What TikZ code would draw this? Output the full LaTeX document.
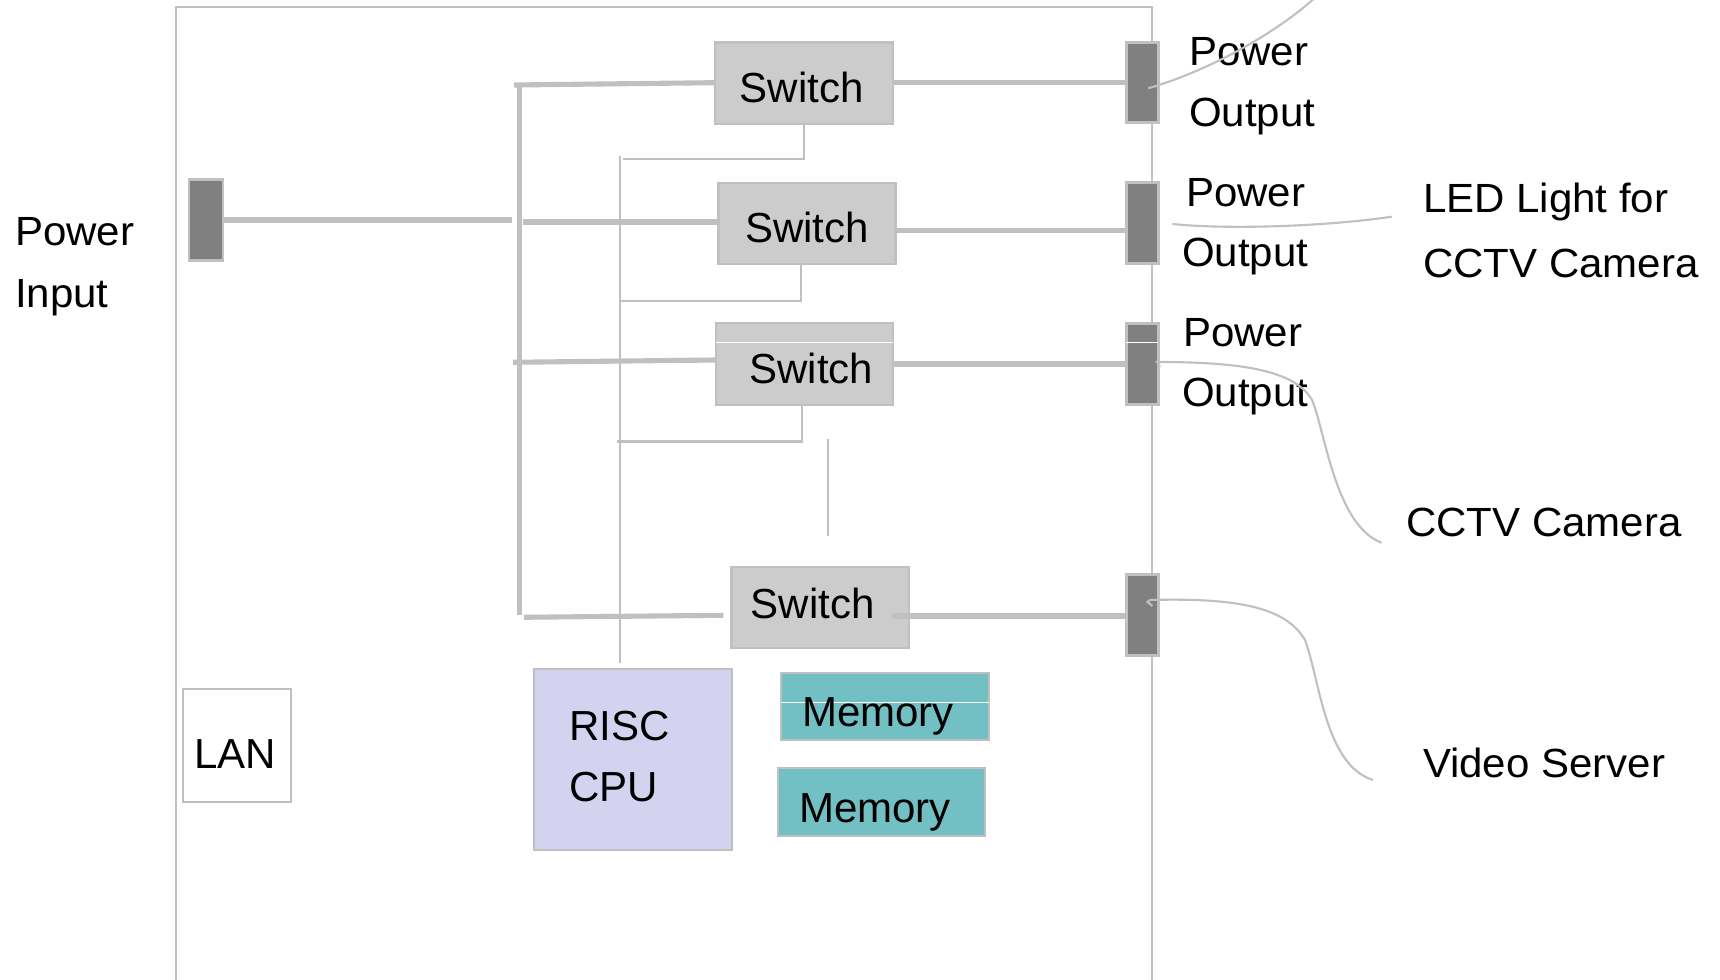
\documentclass[tikz,border=0pt]{standalone}
\usepackage{fontspec}
\setmainfont{Liberation Sans}
\usepackage{graphicx}
\definecolor{ln}{HTML}{C0C0C0}
\definecolor{swfill}{HTML}{CCCCCC}
\definecolor{portfill}{HTML}{808080}
\definecolor{cpufill}{HTML}{D3D3F0}
\definecolor{memfill}{HTML}{72BFC4}
\newcommand\sq[1]{\scalebox{1}[0.97]{#1}}
\newcommand\sr[1]{\scalebox{1}[0.97]{#1}}
\newcommand\rbox[6]{\node[#2, minimum width={(#5-#3)*0.01cm}, minimum height={(#6-#4)*0.01cm}] (#1) at (#3,#4) {};}
\begin{document}
\begin{tikzpicture}[x=0.01cm,y=-0.01cm,
  every node/.style={font=\fontsize{11.95pt}{14pt}\selectfont, inner sep=0pt, outer sep=0pt},
  box/.style={draw=ln, line width=0.7pt, rectangle, anchor=north west},
  swbox/.style={box, fill=swfill},
  port/.style={box, fill=portfill, line width=0.85pt},
  cpubox/.style={box, fill=cpufill},
  membox/.style={box, fill=memfill},
  lanbox/.style={box, fill=white},
  lbl/.style={anchor=base west},
  power/.style={draw=ln, line width=1.45pt},
  ctrl/.style={draw=ln, line width=0.6pt},
  wire/.style={draw=ln, line width=0.6pt},
  frame/.style={draw=ln, line width=0.6pt},
  artifact/.style={draw=white, line width=0.3pt}
]
\fill[white] (0,0) rectangle (1720,980);
\useasboundingbox (0,0) rectangle (1720,980);

% outer frame (open at the bottom)
\draw[frame] (176,980) -- (176,7.3) -- (1152,7.3) -- (1152,980);

% ports
\rbox{PIN}{port}{189}{180}{223}{261}
\rbox{P1}{port}{1126}{43}{1158}{123}
\rbox{P2}{port}{1126}{183}{1158}{264}
\rbox{P3}{port}{1126}{324}{1158}{405}
\rbox{P4}{port}{1126}{575}{1158}{656}

% switches
\rbox{S1}{swbox}{715}{42.7}{893}{124}
\rbox{S2}{swbox}{718.5}{183}{895.6}{264}
\rbox{S3}{swbox}{716}{323}{893}{405}
\rbox{S4}{swbox}{731.7}{567}{909}{648}

% CPU, memory, LAN
\rbox{CPU}{cpubox}{534}{669}{732}{850}
\rbox{M1}{membox}{781}{673}{989}{740}
\rbox{M2}{membox}{778}{768}{985}{836}
\rbox{LAN}{lanbox}{183}{689}{291}{802}

% thin white artefact lines
\draw[artifact] (S3.west |- 0,342.7) -- (S3.east |- 0,342.7);
\draw[artifact] (P3.west |- 0,342.7) -- (P3.east |- 0,342.7);
\draw[artifact] (M1.west |- 0,702.7) -- (M1.east |- 0,702.7);

% power distribution
\coordinate (jin) at (512,220.5);
\coordinate (bustop) at (519.5,83.3);
\coordinate (busbot) at (519.5,615);
\coordinate (b1) at (514,85);
\coordinate (b2) at (523,222);
\coordinate (b3) at (513,362.3);
\coordinate (b4) at (524,617.3);
\coordinate (b4e) at (723.3,615.3);
\coordinate (s4o) at (892,616);
\draw[power, line width=1.7pt] (PIN.east) -- (jin);
\draw[power] (bustop) -- (busbot);
\draw[power] (b1) -- (S1.west |- 0,82.7);
\draw[power] (b2) -- (S2.west |- b2);
\draw[power] (b3) -- (S3.west |- 0,360);
\draw[power] (b4) -- (b4e);
\draw[power] (S1.east |- 0,82.7) -- (P1.west |- 0,82.7);
\draw[power] (S2.east |- 0,230.7) -- (P2.west |- 0,230.7);
\draw[power] (S3.east |- 0,364) -- (P3.west |- 0,364);
\draw[power] (s4o) -- (P4.west |- s4o);

% control lines
\coordinate (ctop) at (620,156);
\coordinate (cbot) at (620,663);
\coordinate (c1) at (622.5,159.3);
\coordinate (c2) at (620,300.7);
\coordinate (c3) at (617,441.5);
\coordinate (d1) at (828.3,439.3);
\coordinate (d2) at (828.3,535.7);
\draw[ctrl] (ctop) -- (cbot);
\draw[ctrl] (S1.south) |- (c1);
\draw[ctrl] (S2.south -| 800.8,0) |- (c2);
\draw[ctrl] (S3.south -| 801.7,0) |- (c3);
\draw[ctrl] (d1) -- (d2);

% labels
\node[lbl] (tPw) at (15,246) {\sq{Power}};
\node[lbl] (tIn) at (15,307.3) {\sq{Input}};
\node[lbl] (o1a) at (1189,65.5) {\sq{Power}};
\node[lbl] (o1b) at (1189,127) {\sq{Output}};
\node[lbl] (o2a) at (1186,206.7) {\sq{Power}};
\node[lbl] (o2b) at (1182,266.7) {\sq{Output}};
\node[lbl] (o3a) at (1183,346.7) {\sq{Power}};
\node[lbl] (o3b) at (1182,406.5) {\sq{Output}};
\node[lbl] (led1) at (1423,212.7) {\sr{LED Light for}};
\node[lbl] (led2) at (1423,278) {\sr{CCTV Camera}};
\node[lbl] (cam) at (1406,537) {\sr{CCTV Camera}};
\node[lbl] (vid) at (1423,778) {\sr{Video Server}};
\node[lbl] (t1) at (739.7,102.7) {Switch};
\node[lbl] (t2) at (745,242.7) {Switch};
\node[lbl] (t3) at (749.5,383.3) {Switch};
\node[lbl] (t4) at (750.7,618.3) {Switch};
\node[lbl] (tR) at (569,741) {RISC};
\node[lbl] (tC) at (569,802) {CPU};
\node[lbl] (tM1) at (802,727) {Memory};
\node[lbl] (tM2) at (799,822.7) {Memory};
\node[lbl] (tL) at (194.4,768.3) {LAN};

% external cables
\coordinate (k1s) at (1148.3,88.3);
\coordinate (k1e) at (1318,-5);
\coordinate (k2s) at (1172.4,224);
\coordinate (k2e) at (1391.8,216.7);
\coordinate (k3h) at (1160,367);
\coordinate (k3s) at (1157,362);
\coordinate (k3m) at (1312,400);
\coordinate (k3e) at (1381.5,542.7);
\coordinate (k4h) at (1152.5,606);
\coordinate (k4s) at (1150,600);
\coordinate (k4m) at (1305,640);
\coordinate (k4e) at (1373,780);
\draw[wire] (k1s) .. controls (1205,72) and (1275,35) .. (k1e);
\draw[wire] (k2s) .. controls (1230,230) and (1330,226) .. (k2e);
\draw[wire] (k3h) -- (k3s) .. controls (1240,362) and (1295,370) .. (k3m)
  .. controls (1325,430) and (1335,525) .. (k3e);
\draw[wire] (k4h) -- (1147.5,602) -- (k4s) .. controls (1230,598) and (1285,605) .. (k4m)
  .. controls (1320,680) and (1325,765) .. (k4e);
\end{tikzpicture}
\end{document}
